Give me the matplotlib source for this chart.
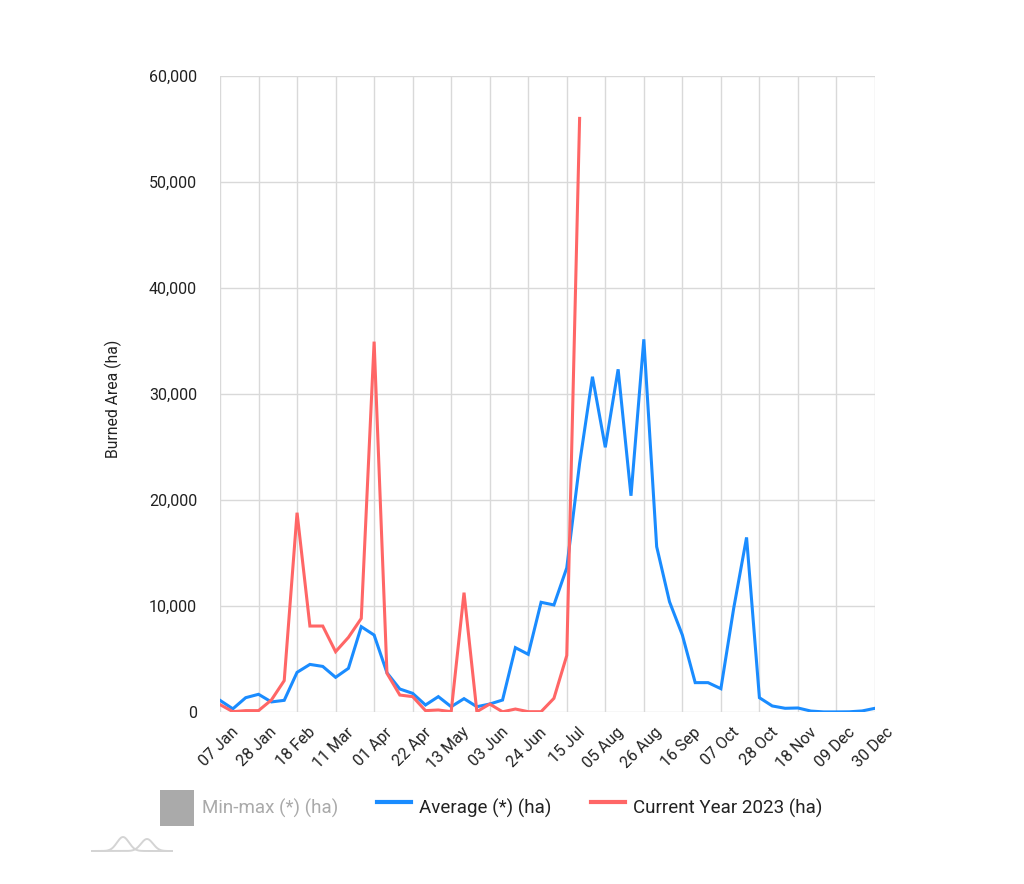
import matplotlib
matplotlib.use("Agg")
import matplotlib.pyplot as plt
from matplotlib.ticker import FuncFormatter, FixedLocator
from matplotlib.patches import Patch
from matplotlib.lines import Line2D
from matplotlib.transforms import ScaledTranslation
import numpy as np

plt.rcParams['font.family'] = ['Roboto', 'DejaVu Sans']

tick_labels = ["07 Jan", "28 Jan", "18 Feb", "11 Mar", "01 Apr", "22 Apr", "13 May",
               "03 Jun", "24 Jun", "15 Jul", "05 Aug", "26 Aug", "16 Sep", "07 Oct",
               "28 Oct", "18 Nov", "09 Dec", "30 Dec"]

average = [1100, 300, 1350, 1670, 950, 1100, 3740, 4490, 4300, 3270, 4120, 8050,
           7260, 3700, 2170, 1760, 660, 1450, 500, 1260, 500, 750, 1130, 6070,
           5440, 10350, 10100, 13600, 23450, 31630, 24970, 32330, 20400, 35160, 15600,
           10400, 7260, 2770, 2770, 2200, 9800, 16470, 1350, 570, 350, 380, 90,
           10, 10, 20, 100, 350]

current_2023 = [700, 30, 130, 130, 1130, 2960, 18800, 8110, 8110, 5690, 7040, 8830,
                34940, 3650, 1600, 1450, 130, 190, 30, 11260, 30, 750, 20, 280,
                30, 30, 1290, 5330, 56000]

BLUE = "#1a8cff"
RED = "#ff6666"
TXT = "#222222"

W, H = 1024, 884
fig = plt.figure(figsize=(W / 100, H / 100), dpi=100)
ax = fig.add_axes([220 / W, 1 - 712 / H, (875 - 220) / W, (712 - 76) / H])

x_avg = np.arange(len(average))
x_cur = np.arange(len(current_2023))
ax.plot(x_avg, average, color=BLUE, lw=2.2, solid_joinstyle="miter", zorder=3)
ax.plot(x_cur, current_2023, color=RED, lw=2.2, solid_joinstyle="miter", zorder=4)

ax.set_xlim(0, len(average) - 1)
ax.set_ylim(0, 60000)
ax.set_yticks(np.arange(0, 60001, 10000))
ax.yaxis.set_major_formatter(FuncFormatter(lambda v, p: f"{int(v):,}"))
ax.tick_params(axis="both", length=0, labelcolor=TXT)
ax.tick_params(axis="x", pad=0, labelsize=11.5)
ax.tick_params(axis="y", pad=16.5, labelsize=11.5)
for s in ax.spines.values():
    s.set_visible(False)
ax.grid(True, color="#d9d9d9", lw=1.0)
ax.set_axisbelow(True)

ax.xaxis.set_major_locator(FixedLocator(np.arange(0, len(average), 3)))
ax.set_xticklabels(tick_labels, rotation=45, ha="right", va="center",
                   rotation_mode="anchor", fontsize=11.5, color=TXT)
offset = ScaledTranslation(16 / 100, -18 / 100, fig.dpi_scale_trans)
for lab in ax.get_xticklabels():
    lab.set_transform(lab.get_transform() + offset)

ax.set_ylabel("Burned Area (ha)", fontsize=11.3, color=TXT)
ax.yaxis.set_label_coords((122 - 220) / 655, (712 - 398.5) / 636)

handles = [Patch(facecolor="#aaaaaa", edgecolor="#999999", lw=0),
           Line2D([], [], color=BLUE, lw=3),
           Line2D([], [], color=RED, lw=3)]
labels = ["Min-max (*) (ha)", "Average (*) (ha)", "Current Year 2023 (ha)"]
leg = fig.legend(handles, labels, loc="center", bbox_to_anchor=(491 / W, 1 - 808 / H),
                 ncol=3, frameon=False, fontsize=13.5, handlelength=1.8,
                 handleheight=2.55, columnspacing=2.1, handletextpad=0.43,
                 borderpad=0, borderaxespad=0)
leg.get_texts()[0].set_color("#aaaaaa")
for t in leg.get_texts()[1:]:
    t.set_color(TXT)

# small decorative logo
xs = np.linspace(92, 172, 200)
bump1 = 14 * np.exp(-((xs - 123) / 8.5) ** 2)
bump2 = 12 * np.exp(-((xs - 147) / 8.5) ** 2)
fig.add_artist(Line2D(xs / W, 1 - (851 - bump1) / H, color="#d4d4d4", lw=1.4))
fig.add_artist(Line2D(xs / W, 1 - (851 - bump2) / H, color="#d4d4d4", lw=1.4))

fig.savefig("out.png", dpi=100, facecolor="white")
